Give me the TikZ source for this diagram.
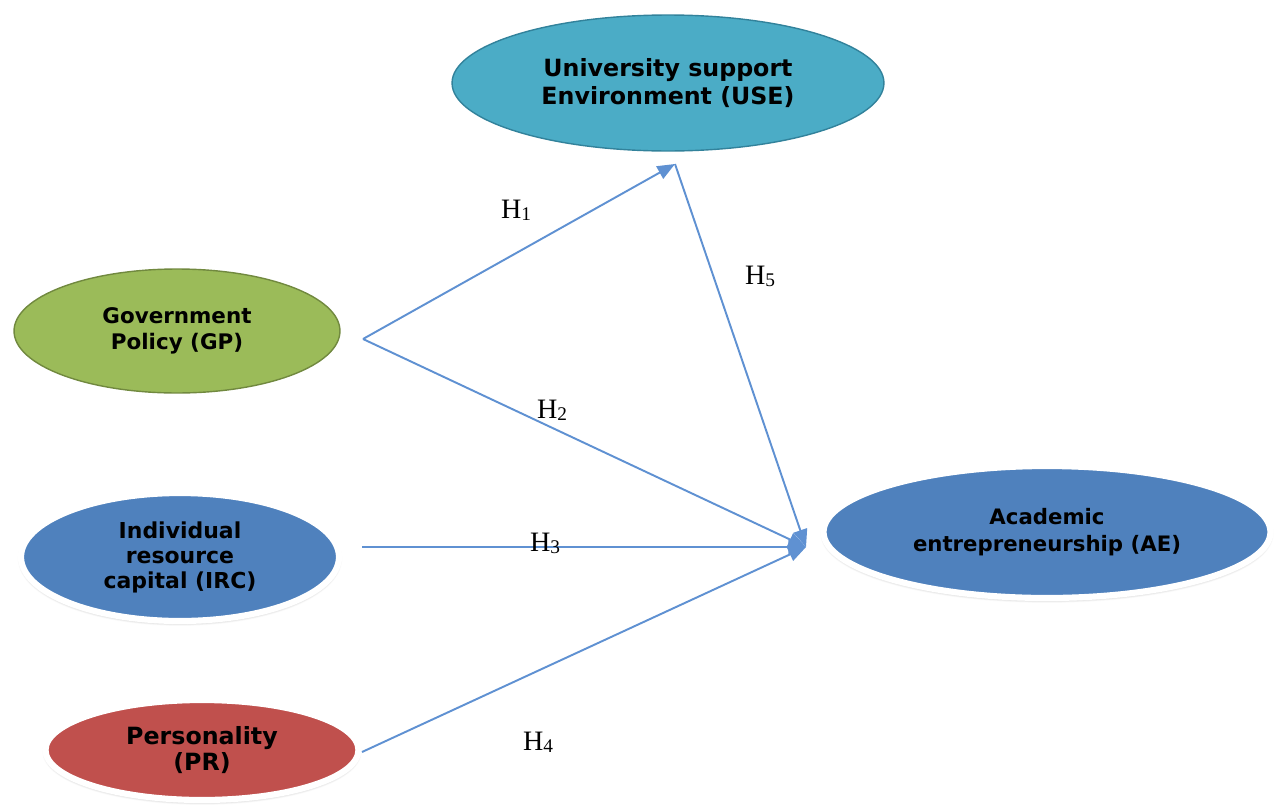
\documentclass[tikz,border=0pt]{standalone}
\usepackage{fontspec}
\setsansfont{DejaVu Sans}
\setmainfont{Liberation Serif}
\usetikzlibrary{shapes.geometric,arrows.meta,shadows.blur}
\definecolor{useC}{RGB}{75,172,198}
\definecolor{useB}{RGB}{50,130,155}
\definecolor{gpC}{RGB}{155,187,89}
\definecolor{gpB}{RGB}{113,137,63}
\definecolor{blueC}{RGB}{79,129,189}
\definecolor{redC}{RGB}{192,80,77}
\definecolor{lineC}{RGB}{95,145,210}
\tikzset{
  construct/.style={ellipse, inner sep=0pt, align=center, text=black,
    font=\sffamily\bfseries\fontsize{12}{14.5}\selectfont},
  framed/.style={construct, draw=#1, line width=0.8pt},
  glow/.style={construct, draw=white, line width=3.5pt,
    blur shadow={shadow xshift=0pt, shadow yshift=-1pt, shadow blur steps=6, shadow opacity=40}},
  link/.style={draw=lineC, line width=1.1pt, -{Triangle[length=10pt,width=8pt]}},
  hyp/.style={font=\fontsize{16}{18}\selectfont, inner sep=0pt}
}
\newcommand{\hlab}[1]{H\raisebox{-0.15ex}{\fontsize{11}{12}\selectfont #1}}
\begin{document}
\begin{tikzpicture}[x=0.02cm,y=-0.02cm]
\useasboundingbox (0,0) rectangle (1274,805);
% constructs
\node[framed=useB, fill=useC, minimum width=8.64cm, minimum height=2.72cm,
  font=\sffamily\bfseries\fontsize{13.5}{15.5}\selectfont] (use) at (668,83)
  {University support\\Environment (USE)};
\node[framed=gpB, fill=gpC, minimum width=6.52cm, minimum height=2.48cm,
  font=\sffamily\bfseries\fontsize{12.2}{14.5}\selectfont] (gp) at (177,331)
  {Government\\Policy (GP)};
\node[glow, fill=blueC, minimum width=6.36cm, minimum height=2.56cm,
  font=\sffamily\bfseries\fontsize{12.5}{14.2}\selectfont] (irc) at (180,557)
  {Individual\\resource\\capital (IRC)};
\node[glow, fill=redC, minimum width=6.26cm, minimum height=2.0cm,
  font=\sffamily\bfseries\fontsize{13.5}{15}\selectfont] (pr) at (202,750)
  {Personality\\(PR)};
\node[glow, fill=blueC, minimum width=8.94cm, minimum height=2.64cm,
  font=\sffamily\bfseries\fontsize{12.1}{15}\selectfont] (ae) at (1047,532)
  {Academic\\entrepreneurship (AE)};
% connector ends
\coordinate (gpout) at (363,339);
\coordinate (ircout) at (362,547);
\coordinate (prout) at (362,752);
\coordinate (usein) at (675,164);
\coordinate (aein) at (806,547);
% connectors
\draw[link] (gpout) -- (usein);
\draw[link] (gpout) -- (aein);
\draw[link] (ircout) -- (aein);
\draw[link] (prout) -- (aein);
\draw[link] (usein) -- (aein);
% labels
\node[hyp] (h1) at (516,210) {\hlab{1}};
\node[hyp] (h2) at (552,410) {\hlab{2}};
\node[hyp] (h3) at (545,543) {\hlab{3}};
\node[hyp] (h4) at (538,742) {\hlab{4}};
\node[hyp] (h5) at (760,276) {\hlab{5}};
\end{tikzpicture}
\end{document}
